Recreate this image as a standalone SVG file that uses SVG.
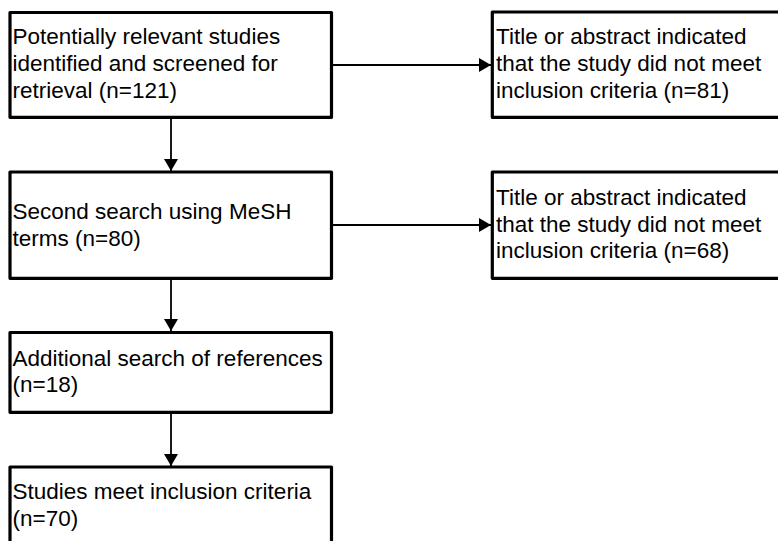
<svg xmlns="http://www.w3.org/2000/svg" width="778" height="541" viewBox="0 0 778 541">
<defs>
<marker id="ah" markerUnits="userSpaceOnUse" markerWidth="13" markerHeight="14" refX="12" refY="7" orient="auto">
<path d="M0,0 L12,7 L0,14 Z" fill="#000"/>
</marker>
<style>
.box{fill:#fff;stroke:#000;stroke-width:3.2;stroke-linejoin:round}
.t{font-family:"Liberation Sans",Arial,sans-serif;font-size:22.5px;fill:#000}
.c{fill:none;stroke:#000;stroke-width:1.8}
</style>
</defs>
<rect width="778" height="541" fill="#fff"/>
<g id="connectors">
<line class="c" x1="332" y1="65" x2="491" y2="65" marker-end="url(#ah)"/>
<line class="c" x1="332" y1="225" x2="491" y2="225" marker-end="url(#ah)"/>
<line class="c" x1="171" y1="117" x2="171" y2="171" marker-end="url(#ah)"/>
<line class="c" x1="171" y1="278" x2="171" y2="331" marker-end="url(#ah)"/>
<line class="c" x1="171" y1="412" x2="171" y2="466" marker-end="url(#ah)"/>
</g>
<g id="n1">
<rect class="box" x="10" y="12.5" width="321.5" height="104.8"/>
<text class="t" x="12.5" y="44.3">Potentially relevant studies</text>
<text class="t" x="12.5" y="71">identified and screened for</text>
<text class="t" x="12.5" y="97.7">retrieval (n=121)</text>
</g>
<g id="n2">
<rect class="box" x="492.3" y="12" width="300" height="105.3"/>
<text class="t" x="496" y="44.3">Title or abstract indicated</text>
<text class="t" x="496" y="71">that the study did not meet</text>
<text class="t" x="496" y="97.7">inclusion criteria (n=81)</text>
</g>
<g id="n3">
<rect class="box" x="10" y="172" width="321.5" height="106.3"/>
<text class="t" x="12.5" y="219.3">Second search using MeSH</text>
<text class="t" x="12.5" y="245.5">terms (n=80)</text>
</g>
<g id="n4">
<rect class="box" x="492.3" y="172" width="300" height="106.3"/>
<text class="t" x="496" y="205">Title or abstract indicated</text>
<text class="t" x="496" y="231.7">that the study did not meet</text>
<text class="t" x="496" y="258.3">inclusion criteria (n=68)</text>
</g>
<g id="n5">
<rect class="box" x="10" y="332.5" width="321.5" height="79.8"/>
<text class="t" x="12.5" y="366">Additional search of references</text>
<text class="t" x="12.5" y="392.3">(n=18)</text>
</g>
<g id="n6">
<rect class="box" x="10" y="467" width="321.5" height="90"/>
<text class="t" x="12.5" y="499.3">Studies meet inclusion criteria</text>
<text class="t" x="12.5" y="525.7">(n=70)</text>
</g>
</svg>
